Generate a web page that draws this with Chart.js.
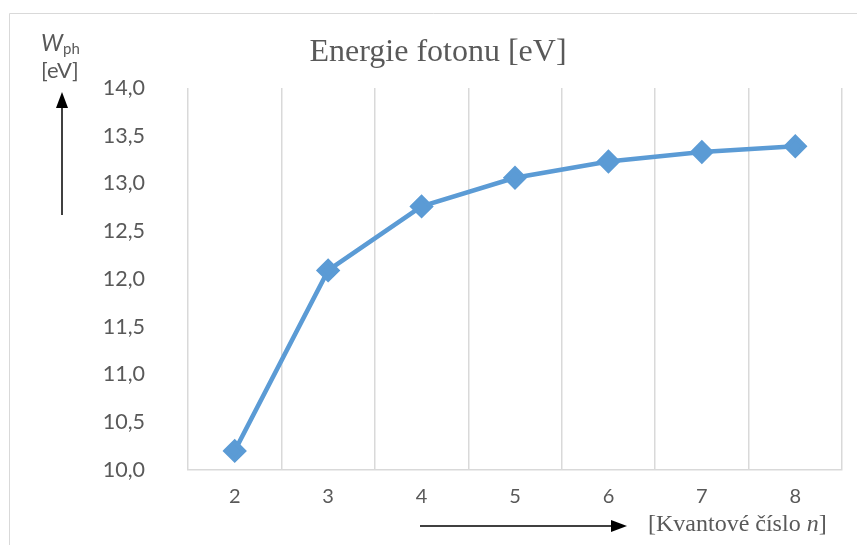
<!DOCTYPE html>
<html>
<head>
<meta charset="utf-8">
<script src="https://cdn.jsdelivr.net/npm/chart.js@4"></script>
<style>
  html, body { margin: 0; padding: 0; background: #fff; }
  #wrap { width: 857px; height: 545px; }
</style>
</head>
<body>
<div id="wrap"><canvas id="myChart" width="857" height="545"></canvas></div>
<script>
// data
const quantumNumbers = ["2", "3", "4", "5", "6", "7", "8"];
const photonEnergy = [10.2, 12.09, 12.76, 13.06, 13.23, 13.33, 13.39];
const yMin = 10;
const yMax = 14;
const yStep = 0.5;

const chartTitle = "Energie fotonu [eV]";
const grey = "#595959";
const gridGrey = "#d9d9d9";
const lineBlue = "#5b9bd5";

// arrows, frame and axis captions drawn on top of the chart
const decorations = {
  id: "decorations",
  afterDraw(chart) {
    const ctx = chart.ctx;
    ctx.save();

    // outer frame
    ctx.strokeStyle = gridGrey;
    ctx.lineWidth = 1;
    ctx.beginPath();
    ctx.moveTo(9.5, 545);
    ctx.lineTo(9.5, 13.5);
    ctx.lineTo(857, 13.5);
    ctx.stroke();

    // title
    ctx.fillStyle = grey;
    ctx.font = "32px 'Liberation Serif'";
    ctx.textAlign = "center";
    ctx.textBaseline = "middle";
    ctx.fillText(chartTitle, 438, 53);

    // y caption: W_ph [eV]
    ctx.textAlign = "left";
    ctx.textBaseline = "alphabetic";
    ctx.font = "italic 23px Lato";
    ctx.fillText("W", 41, 51);
    ctx.font = "15px Lato";
    ctx.fillText("ph", 63, 54);
    ctx.font = "22px Lato";
    ctx.fillText("[eV]", 41, 78);

    // y arrow
    ctx.strokeStyle = "#000";
    ctx.fillStyle = "#000";
    ctx.lineWidth = 1.5;
    ctx.beginPath();
    ctx.moveTo(62, 215);
    ctx.lineTo(62, 104);
    ctx.stroke();
    ctx.beginPath();
    ctx.moveTo(62, 92);
    ctx.lineTo(56, 108);
    ctx.lineTo(68, 108);
    ctx.closePath();
    ctx.fill();

    // x arrow
    ctx.beginPath();
    ctx.moveTo(420, 526);
    ctx.lineTo(614, 526);
    ctx.stroke();
    ctx.beginPath();
    ctx.moveTo(627, 526);
    ctx.lineTo(611, 520);
    ctx.lineTo(611, 532);
    ctx.closePath();
    ctx.fill();

    // x caption: [Kvantové číslo n]
    ctx.fillStyle = grey;
    ctx.textBaseline = "middle";
    ctx.font = "24px 'Liberation Serif'";
    let x = 648;
    const part1 = "[Kvantové číslo ";
    ctx.fillText(part1, x, 525);
    x += ctx.measureText(part1).width;
    ctx.font = "italic 24px 'Liberation Serif'";
    ctx.fillText("n", x, 525);
    x += ctx.measureText("n").width;
    ctx.font = "24px 'Liberation Serif'";
    ctx.fillText("]", x, 525);

    ctx.restore();
  }
};

const ctx = document.getElementById("myChart").getContext("2d");
new Chart(ctx, {
  type: "line",
  data: {
    labels: quantumNumbers,
    datasets: [
      {
        label: "Energie fotonu",
        data: photonEnergy,
        borderColor: lineBlue,
        backgroundColor: lineBlue,
        borderWidth: 4.5,
        pointStyle: "rectRot",
        pointRadius: 9,
        pointHoverRadius: 9,
        tension: 0,
        fill: false,
      },
    ],
  },
  options: {
    responsive: false,
    animation: false,
    devicePixelRatio: 1,
    layout: { padding: { top: 88, right: 15, left: 0, bottom: 0 } },
    plugins: {
      legend: { display: false },
      title: { display: false },
      tooltip: { enabled: false },
    },
    scales: {
      x: {
        offset: true,
        grid: {
          offset: true,
          color: gridGrey,
          lineWidth: 1.5,
          drawTicks: false,
        },
        border: { color: gridGrey, width: 1.5 },
        ticks: {
          color: grey,
          font: { family: "Lato", size: 20 },
          padding: 15,
        },
        afterFit(scale) {
          scale.height = 75;
        },
      },
      y: {
        min: yMin,
        max: yMax,
        grid: { display: false, drawTicks: false },
        border: { display: false },
        ticks: {
          stepSize: yStep,
          color: grey,
          font: { family: "Lato", size: 21.5 },
          padding: 43,
          callback: (v) => v.toFixed(1).replace(".", ","),
        },
        afterFit(scale) {
          scale.width = 188;
        },
      },
    },
  },
  plugins: [decorations],
});
</script>
</body>
</html>
